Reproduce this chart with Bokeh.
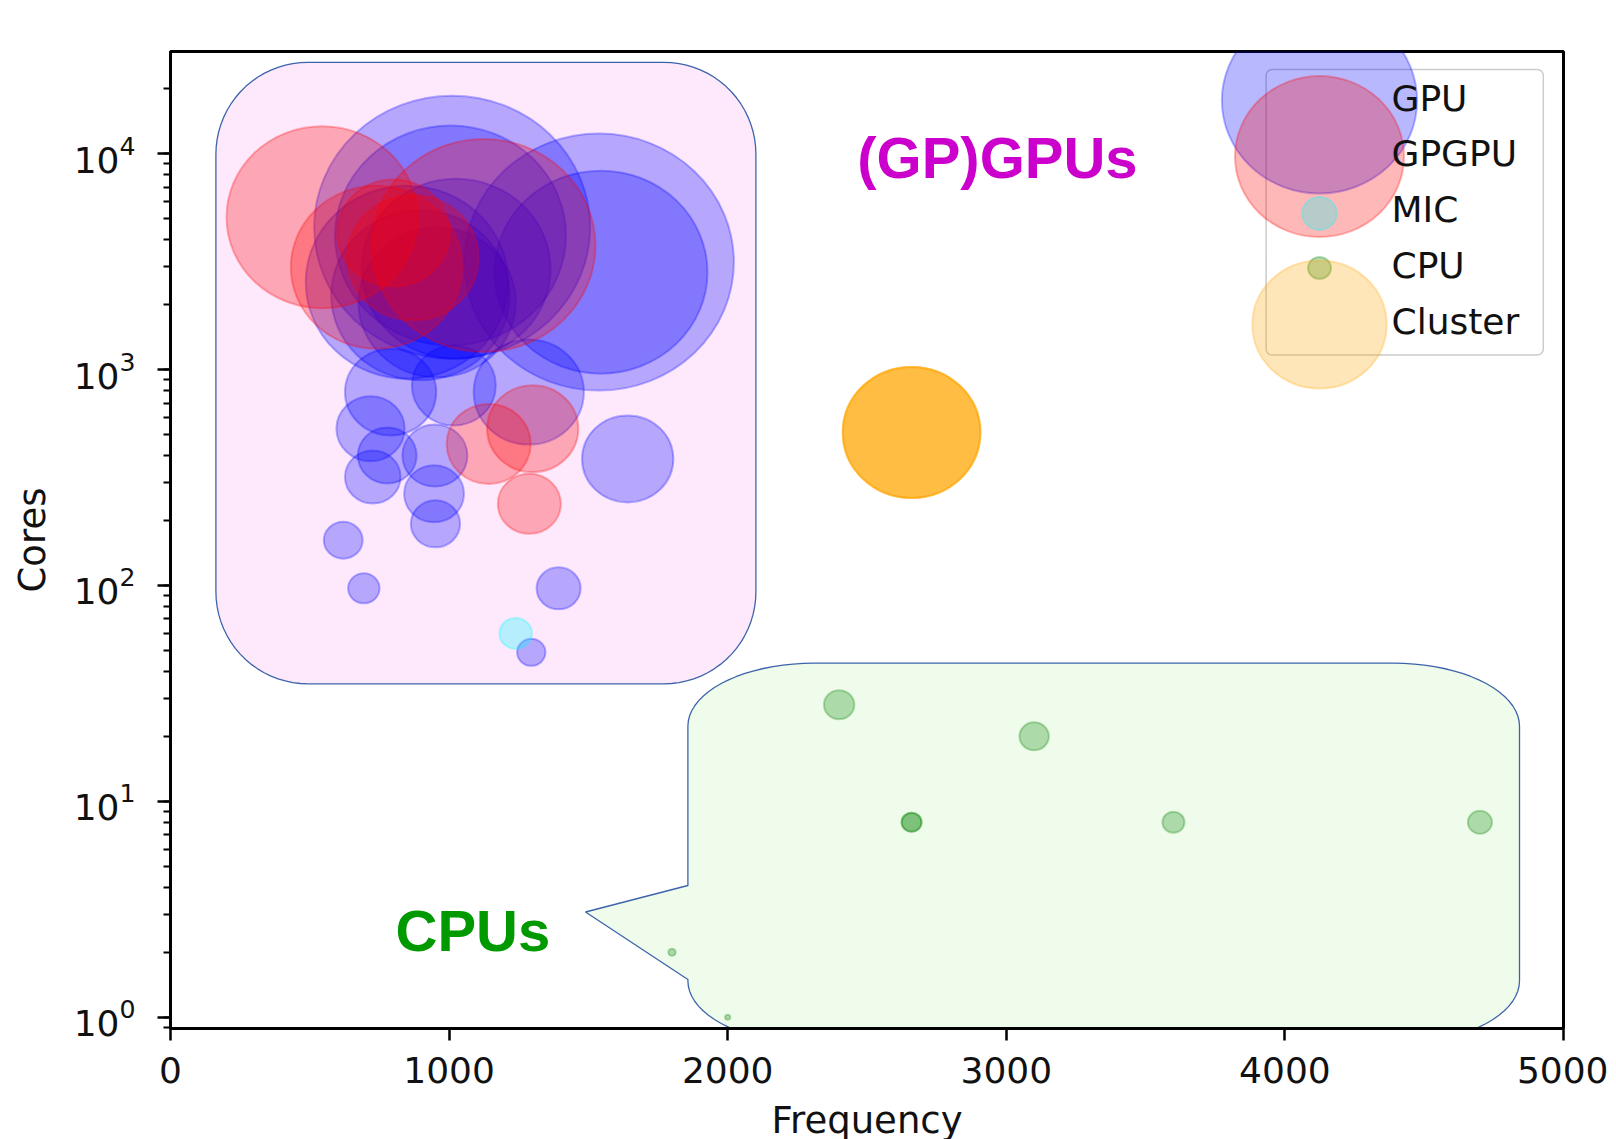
import numpy as np
from bokeh.plotting import figure
from bokeh.models import (Range1d, ColumnDataSource, PolyAnnotation, BoxAnnotation, Label,
                          FixedTicker)
from bokeh.embed import file_html
from bokeh.resources import INLINE

# ---------------- data ----------------
gpu_freq = [1011, 1538, 1545, 1005, 1025, 849, 957, 897, 790, 1017, 1286, 718, 726, 778,
            949, 946, 951, 620, 694, 1393, 1641, 1295]
gpu_cores = [4570, 3150, 2830, 4180, 2930, 2540, 2050, 2210, 787, 845, 787, 532, 318, 400,
             400, 266, 193, 162, 97, 97, 386, 49]
gpu_size = [263, 257, 203, 220, 180, 193, 150, 170, 87, 80, 105, 65, 53, 56,
            62, 57, 47, 37, 30, 42, 87, 27]

gpgpu_freq = [544, 1124, 739, 800, 870, 1300, 1142, 1288]
gpgpu_cores = [5085, 3760, 2983, 4300, 3300, 532, 453, 239]
gpgpu_size = [182, 213, 163, 107, 125, 87, 80, 60]

mic_freq = [1239]
mic_cores = [60]
mic_size = [31]

cpu_freq = [2400, 3100, 2660, 2660, 3600, 4700, 1800, 2000]
cpu_cores = [28, 20, 8, 8, 8, 8, 2, 1]
cpu_size = [29, 28, 19, 19, 21, 23, 7, 5]

cluster_freq = [2660, 2660, 2660, 2660]
cluster_cores = [512, 512, 512, 512]
cluster_size = [131, 131, 131, 131]

series_names = ["GPU", "GPGPU", "MIC", "CPU", "Cluster"]
x_ticks = [0, 1000, 2000, 3000, 4000, 5000]

# ---------------- style / layout constants ----------------
COLORS = {"GPU": "#0000FF", "GPGPU": "#FF0000", "MIC": "#00FFFF",
          "CPU": "#008000", "Cluster": "#FFA500"}
ALPHA = 0.28
STRETCH = 1.05            # bubbles are slightly wider than tall in the original
LEGEND_DIAM = [186, 161, 33, 22, 128]
LEGEND_CY = [100, 156, 213, 267.5, 324]
LEGEND_TY = [98, 152.5, 209, 265, 320.5]
LEGEND_CX = 1319
LEGEND_TX = 1391

FRAME_L, FRAME_T, FRAME_W, FRAME_H = 170, 51, 1393, 977
X_MIN, X_MAX = 0, 5000
Y_MIN, Y_MAX = 0.8864, 29780


def fx(px):
    return X_MIN + (px - FRAME_L) / FRAME_W * (X_MAX - X_MIN)


def fy(py):
    lo, hi = np.log10(Y_MIN), np.log10(Y_MAX)
    return float(10 ** (hi - (py - FRAME_T) / FRAME_H * (hi - lo)))


def rounded_rect(l, t, r, b, rx, ry, tail=None, n=20):
    pts = []
    corners = [(r - rx, t + ry, -90), (r - rx, b - ry, 0), (l + rx, b - ry, 90), (l + rx, t + ry, 180)]
    for i, (cx, cy, a0) in enumerate(corners):
        for a in np.linspace(a0, a0 + 90, n):
            th = np.radians(a)
            pts.append((cx + rx * np.cos(th), cy + ry * np.sin(th)))
        if i == 2 and tail is not None:
            pts.extend(tail)
    return [fx(p[0]) for p in pts], [fy(p[1]) for p in pts]


p = figure(frame_width=FRAME_W, frame_height=FRAME_H,
           min_border_left=FRAME_L, min_border_top=FRAME_T,
           min_border_right=45, min_border_bottom=103,
           x_range=Range1d(X_MIN, X_MAX), y_range=Range1d(Y_MIN, Y_MAX),
           y_axis_type="log", output_backend="svg", toolbar_location=None,
           background_fill_color="white", border_fill_color="white")

p.grid.visible = False
p.outline_line_color = "black"
p.outline_line_width = 3
p.outline_line_alpha = 1

# callout shapes (slide overlays)
pxs, pys = rounded_rect(215.4, 61.8, 755.4, 683.3, 92, 92)
p.add_layout(PolyAnnotation(xs=pxs, ys=pys, fill_color="#FDE8FC", fill_alpha=1,
                            line_color="#3D64AA", line_alpha=1, line_width=1.3, level="underlay"))
gxs, gys = rounded_rect(687.4, 662.7, 1519, 1043.3, 126, 63,
                        tail=[(687.4, 979), (585, 911.5), (687.4, 885)])
p.add_layout(PolyAnnotation(xs=gxs, ys=gys, fill_color="#F0FCEB", fill_alpha=1,
                            line_color="#3D64AA", line_alpha=1, line_width=1.3, level="underlay"))

# legend frame
p.add_layout(BoxAnnotation(left=fx(1265.6), right=fx(1542.8), top=fy(69), bottom=fy(354.5),
                           fill_color="white", fill_alpha=0.8, line_color="#CCCCCC",
                           line_alpha=1, line_width=1.5, border_radius=6, level="underlay"))

# data bubbles
for name, fr, co, sz in [("GPU", gpu_freq, gpu_cores, gpu_size),
                         ("GPGPU", gpgpu_freq, gpgpu_cores, gpgpu_size),
                         ("MIC", mic_freq, mic_cores, mic_size),
                         ("CPU", cpu_freq, cpu_cores, cpu_size),
                         ("Cluster", cluster_freq, cluster_cores, cluster_size)]:
    src = ColumnDataSource(dict(x=fr, y=co, h=sz, w=[s * STRETCH for s in sz]))
    p.ellipse(x="x", y="y", width="w", height="h", width_units="screen", height_units="screen",
              source=src, fill_color=COLORS[name], fill_alpha=ALPHA,
              line_color=COLORS[name], line_alpha=ALPHA, line_width=2)

# legend handles
lsrc = ColumnDataSource(dict(x=[fx(LEGEND_CX)] * 5, y=[fy(v) for v in LEGEND_CY],
                             h=LEGEND_DIAM, w=[d * STRETCH for d in LEGEND_DIAM],
                             c=[COLORS[n] for n in series_names]))
p.ellipse(x="x", y="y", width="w", height="h", width_units="screen", height_units="screen",
          source=lsrc, fill_color="c", fill_alpha=ALPHA, line_color="c", line_alpha=ALPHA,
          line_width=2)
for name, ty in zip(series_names, LEGEND_TY):
    p.add_layout(Label(x=fx(LEGEND_TX), y=fy(ty), text=name, text_font="DejaVu Sans",
                       text_font_size="36px", text_color="#111111", text_baseline="middle",
                       text_align="left"))

# overlay titles
p.add_layout(Label(x=fx(856.7), y=fy(157), text="(GP)GPUs", text_font="Liberation Sans",
                   text_font_style="bold", text_font_size="58px", text_color="#CC00CC",
                   text_baseline="middle", text_align="left"))
p.add_layout(Label(x=fx(395), y=fy(929.5), text="CPUs", text_font="Liberation Sans",
                   text_font_style="bold", text_font_size="58px", text_color="#009900",
                   text_baseline="middle", text_align="left"))

# axes
for ax in (p.xaxis, p.yaxis):
    ax.axis_line_width = 3
    ax.axis_line_color = "black"
    ax.major_tick_line_width = 2.5
    ax.minor_tick_line_width = 2
    ax.major_tick_line_color = "black"
    ax.minor_tick_line_color = "black"
    ax.major_tick_in = 0
    ax.minor_tick_in = 0
    ax.major_label_text_font = "DejaVu Sans"
    ax.major_label_text_font_size = "36px"
    ax.major_label_text_color = "#111111"
    ax.axis_label_text_font = "DejaVu Sans"
    ax.axis_label_text_font_size = "37px"
    ax.axis_label_text_font_style = "normal"
    ax.axis_label_text_color = "#111111"

p.xaxis.ticker = FixedTicker(ticks=x_ticks)
p.xaxis.major_tick_out = 12
p.xaxis.minor_tick_out = 0
p.xaxis.major_label_standoff = 16
p.xaxis.axis_label = "Frequency"
p.xaxis.axis_label_standoff = 13

p.yaxis.major_tick_out = 13
p.yaxis.minor_tick_out = 7
p.yaxis.major_label_standoff = 22
p.yaxis.axis_label = "Cores"
p.yaxis.axis_label_standoff = 17

open("out.html", "w").write(file_html(p, INLINE))
